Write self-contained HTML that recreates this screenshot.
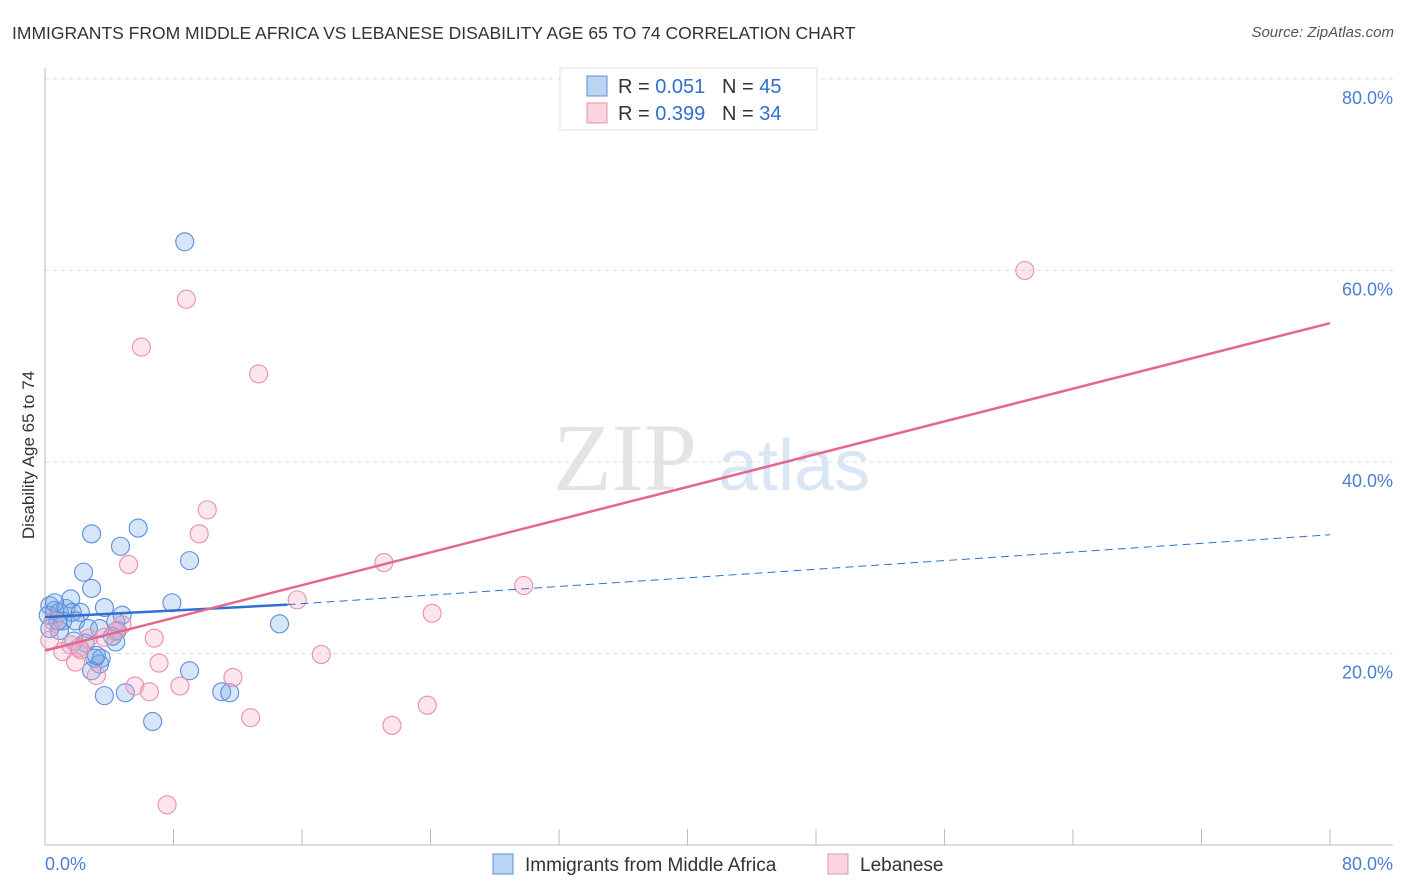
<!DOCTYPE html>
<html><head><meta charset="utf-8"><style>
body{margin:0;background:#fff;font-family:"Liberation Sans",sans-serif;}
#wrap{position:relative;width:1406px;height:892px;overflow:hidden}
.t{position:absolute;white-space:nowrap}
</style></head><body>
<div id="wrap">
<div class="t" style="left:12px;top:23px;font-size:17.5px;color:#333">IMMIGRANTS FROM MIDDLE AFRICA VS LEBANESE DISABILITY AGE 65 TO 74 CORRELATION CHART</div>
<div class="t" style="right:12px;top:24px;font-size:15px;color:#555;font-style:italic">Source: ZipAtlas.com</div>
<svg id="svg" width="1406" height="892" style="position:absolute;left:0;top:0"></svg>
</div>
<script>
const yTicks=[20,40,60,80];
const xTicks=[0,8,16,24,32,40,48,56,64,72,80];
const blueX=[8.7,2.9,5.8,4.7,2.4,9.0,2.9,7.9,3.7,4.8,14.6,0.3,0.6,0.2,0.9,1.3,1.6,1.7,2.2,1.9,1.1,2.7,3.4,4.4,4.5,0.3,0.9,2.5,2.1,4.4,4.2,3.1,3.5,3.4,2.9,9.0,3.7,5.0,11.0,11.5,6.7,0.6,0.8,1.8,3.2];
const blueY=[63.0,32.5,33.1,31.2,28.5,29.7,26.8,25.3,24.8,24.0,23.1,25.0,24.5,24.0,24.3,24.7,25.7,24.3,24.3,23.4,23.4,22.6,22.6,23.3,22.4,22.6,22.4,21.1,20.6,21.2,21.8,19.5,19.5,18.9,18.2,18.2,15.6,15.9,16.0,15.9,12.9,25.3,23.4,21.3,19.8];
const pinkX=[61.0,8.8,6.0,13.3,10.1,9.6,5.2,21.1,29.8,15.7,24.1,4.8,4.4,6.8,3.7,2.7,2.1,1.1,1.6,0.3,17.2,7.1,1.9,3.2,11.7,8.4,5.6,6.5,12.8,21.6,23.8,7.6,2.2,0.5];
const pinkY=[60.0,57.0,52.0,49.2,35.0,32.5,29.3,29.5,27.1,25.6,24.2,23.0,22.3,21.6,21.7,21.6,20.6,20.2,20.9,21.4,19.9,19.0,19.1,17.7,17.5,16.6,16.6,16.0,13.3,12.5,14.6,4.2,20.4,23.4];
const blueFit=[[0,23.8],[15.1,25.1],[80,32.4]];
const pinkFit=[[0,20.3],[80,54.5]];
const L=45,R=1330,B=845,T=79;
const sx=v=>L+v/80*(R-L), sy=v=>B-v/80*(B-T);
const svg=document.getElementById('svg');const NS='http://www.w3.org/2000/svg';
function mk(tag,a,p){const e=document.createElementNS(NS,tag);for(const k in a)e.setAttribute(k,a[k]);(p||svg).appendChild(e);return e;}
let w=mk('text',{x:553,y:490,'font-size':96,fill:'#e4e4e4','font-family':'Liberation Serif,serif'});w.textContent='ZIP';


let w2=mk('text',{x:718,y:490,'font-size':72,fill:'#d8e6f5','font-family':'Liberation Sans,sans-serif'});w2.textContent='atlas';


yTicks.forEach(v=>{
 let g=mk('line',{x1:L,x2:1393,y1:sy(v),y2:sy(v),stroke:'#ddd','stroke-dasharray':'4,4'});
 
 
 let t=mk('text',{x:1393,y:sy(v)+25,'text-anchor':'end','font-size':18,fill:'#4a7fd0'});t.textContent=v.toFixed(1)+'%';
 
 
});
let ax=mk('line',{x1:L,x2:L,y1:68,y2:B,stroke:'#bbb'});


let axb=mk('line',{x1:L,x2:1393,y1:B,y2:B,stroke:'#bbb'});


xTicks.forEach(v=>{let l=mk('line',{x1:sx(v),x2:sx(v),y1:B,y2:B-16,stroke:'#bbb'});
 
 });
[[0,'0.0%',45,'start'],[80,'80.0%',1393,'end']].forEach(d=>{let t=mk('text',{x:d[2],y:870,'text-anchor':d[3],'font-size':18,fill:'#4a7fd0'});t.textContent=d[1];
 
 });
let yt=mk('text',{x:0,y:0,transform:'translate(34,455) rotate(-90)','text-anchor':'middle','font-size':17,fill:'#333'});yt.textContent='Disability Age 65 to 74';


blueX.forEach((x,i)=>{let c=mk('circle',{cx:sx(x),cy:sy(blueY[i]),r:9,fill:'rgba(120,170,230,0.3)',stroke:'#5b8fdc','stroke-width':1.1});
 
 });
pinkX.forEach((x,i)=>{let c=mk('circle',{cx:sx(x),cy:sy(pinkY[i]),r:9,fill:'rgba(245,170,195,0.3)',stroke:'#ea8fab','stroke-width':1.1});
 
 });
let b1=mk('line',{x1:sx(blueFit[0][0]),y1:sy(blueFit[0][1]),x2:sx(blueFit[1][0]),y2:sy(blueFit[1][1]),stroke:'#2f6fd0','stroke-width':2.5});


let b2=mk('line',{x1:sx(blueFit[1][0]),y1:sy(blueFit[1][1]),x2:sx(blueFit[2][0]),y2:sy(blueFit[2][1]),stroke:'#2f6fd0','stroke-width':1,'stroke-dasharray':'8,5'});


let p1=mk('line',{x1:sx(pinkFit[0][0]),y1:sy(pinkFit[0][1]),x2:sx(pinkFit[1][0]),y2:sy(pinkFit[1][1]),stroke:'#e4678f','stroke-width':2.5});


let lg=mk('rect',{x:560,y:68,width:257,height:62,fill:'#fff',stroke:'#ddd'});


[['rgba(120,170,230,0.5)','#5b8fdc','0.051','45',86],['rgba(245,170,195,0.5)','#ea8fab','0.399','34',113]].forEach(d=>{
 let r=mk('rect',{x:587,y:d[4]-10,width:20,height:20,fill:d[0],stroke:d[1]});
 
 
 let t=mk('text',{x:618,y:d[4]+7,'font-size':20,fill:'#333'});
 t.innerHTML='R = <tspan fill="#2f6fd0">'+d[2]+'</tspan>   N = <tspan fill="#2f6fd0">'+d[3]+'</tspan>';
 t.setAttribute('xml:space','preserve');t.style.whiteSpace='pre';
 
 
});
[[493,'rgba(120,170,230,0.5)','#5b8fdc','Immigrants from Middle Africa','legend-middle-africa'],[828,'rgba(245,170,195,0.5)','#ea8fab','Lebanese','legend-lebanese']].forEach(d=>{
 let r=mk('rect',{x:d[0],y:854,width:20,height:20,fill:d[1],stroke:d[2]});
 
 
 let t=mk('text',{x:d[0]+32,y:871,'font-size':19,fill:'#333'});t.textContent=d[3];
 
 
});
</script>
</body></html>
